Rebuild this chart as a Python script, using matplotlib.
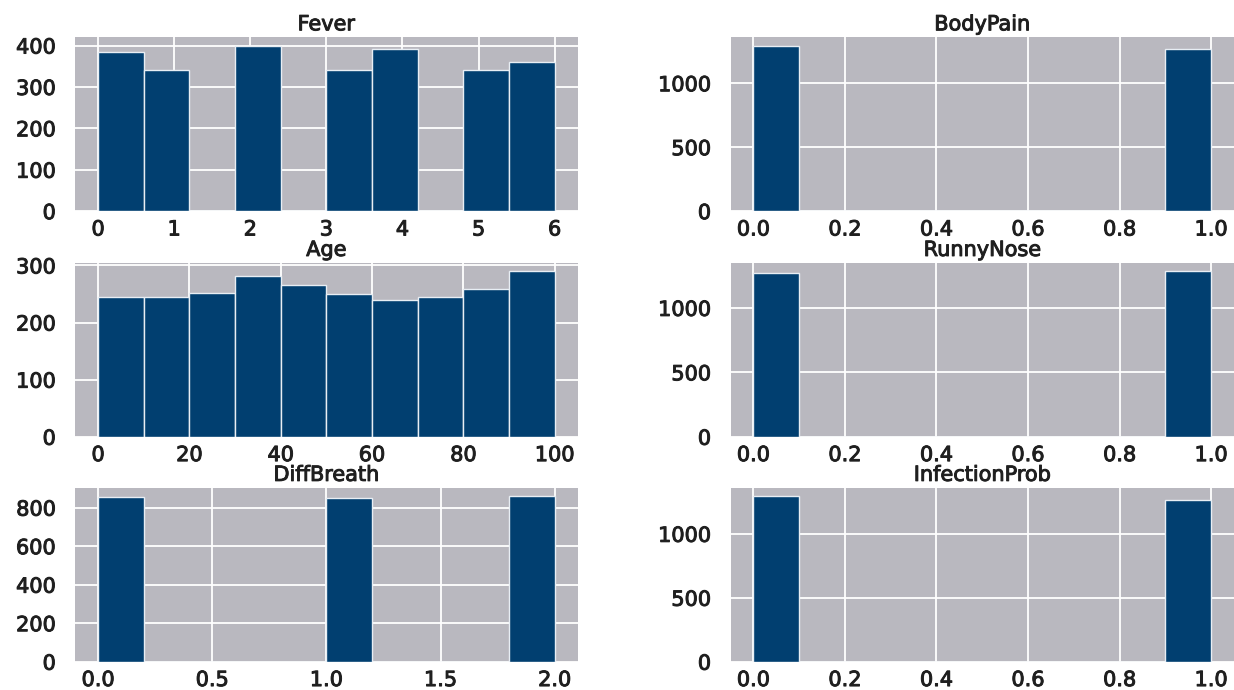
import numpy as np
import matplotlib.pyplot as plt
import matplotlib.patheffects as pe

# histogram bin edges and counts per column (10 bins each, as df.hist does)
fever_edges = np.linspace(0, 6, 11)
fever_counts = [385, 340, 0, 400, 0, 340, 392, 0, 340, 360]

age_edges = np.linspace(0, 100, 11)
age_counts = [245, 245, 252, 282, 265, 250, 240, 245, 258, 290]

diff_edges = np.linspace(0, 2, 11)
diff_counts = [855, 0, 0, 0, 0, 852, 0, 0, 0, 860]

bin01_edges = np.linspace(0, 1, 11)
bodypain_counts = [1295, 0, 0, 0, 0, 0, 0, 0, 0, 1265]
runny_counts = [1270, 0, 0, 0, 0, 0, 0, 0, 0, 1285]
infection_counts = [1295, 0, 0, 0, 0, 0, 0, 0, 0, 1262]

unit_ticks = [0.0, 0.2, 0.4, 0.6, 0.8, 1.0]
panels = [
    ('Fever', fever_edges, fever_counts, [0, 100, 200, 300, 400], [0, 1, 2, 3, 4, 5, 6]),
    ('BodyPain', bin01_edges, bodypain_counts, [0, 500, 1000], unit_ticks),
    ('Age', age_edges, age_counts, [0, 100, 200, 300], [0, 20, 40, 60, 80, 100]),
    ('RunnyNose', bin01_edges, runny_counts, [0, 500, 1000], unit_ticks),
    ('DiffBreath', diff_edges, diff_counts, [0, 200, 400, 600, 800], [0.0, 0.5, 1.0, 1.5, 2.0]),
    ('InfectionProb', bin01_edges, infection_counts, [0, 500, 1000], unit_ticks),
]

bg = '#b9b8bf'
bar_color = '#013f70'
text_color = '#1f1f1f'
thick = [pe.withStroke(linewidth=0.7, foreground=text_color)]

fig = plt.figure(figsize=(12.34, 6.9), dpi=100)
fig.patch.set_facecolor('white')

col_x = [(0.061, 0.468), (0.592, 1.0)]
row_y = [(0.694, 0.946), (0.367, 0.619), (0.041, 0.293)]

for i, (name, edges, counts, yticks, xticks) in enumerate(panels):
    r, c = divmod(i, 2)
    x0, x1 = col_x[c]
    y0, y1 = row_y[r]
    ax = fig.add_axes([x0, y0, x1 - x0, y1 - y0])
    ax.set_facecolor(bg)
    ax.set_axisbelow(True)
    ax.hist(edges[:-1], bins=edges, weights=counts, color=bar_color,
            edgecolor='#e8eef4', linewidth=1.0)
    ax.grid(True, color='white', linewidth=1.3)
    for s in ax.spines.values():
        s.set_visible(False)
    ax.set_yticks(yticks)
    ax.set_xticks(xticks)
    if isinstance(xticks[1], float):
        ax.set_xticklabels([f'{t:.1f}' for t in xticks])
    ax.tick_params(length=0, labelsize=15, colors=text_color)
    ax.tick_params(axis='y', pad=14)
    ax.tick_params(axis='x', pad=6)
    for lbl in ax.get_xticklabels() + ax.get_yticklabels():
        lbl.set_path_effects(thick)
    ax.set_title(name, fontsize=15, color=text_color, pad=5, path_effects=thick)

fig.savefig('out.png', dpi=100, facecolor='white')
